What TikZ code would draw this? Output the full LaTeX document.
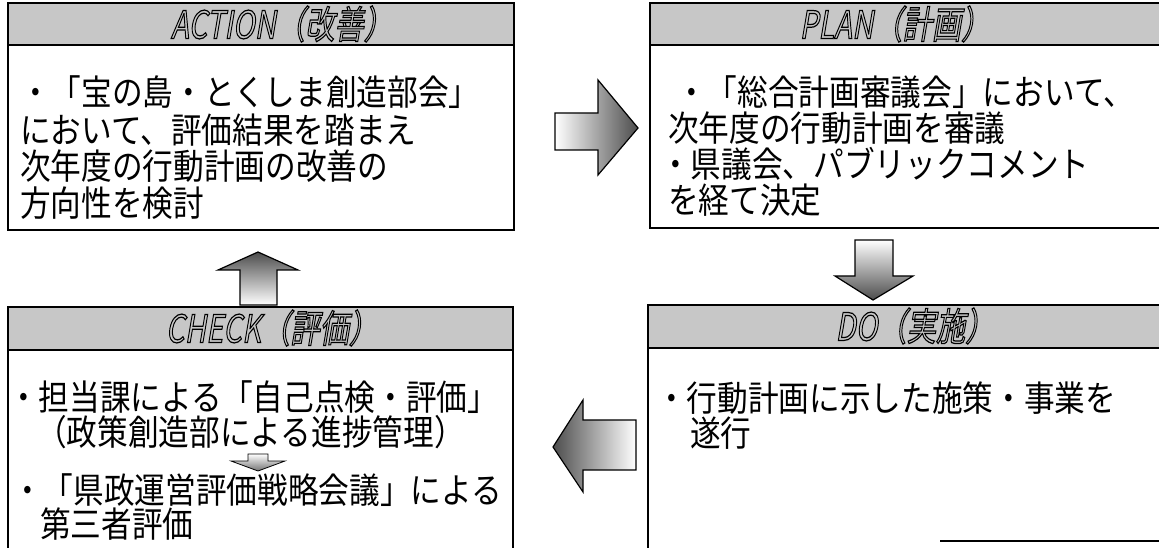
\documentclass[tikz,border=0pt]{standalone}
\usepackage{fontspec}
\usepackage{graphicx}
\setmainfont{Noto Sans CJK JP}
\newfontfamily\hdrfont[FakeSlant=0.22]{Noto Sans CJK JP}
\newcommand\outlinetext[1]{\scalebox{1}[1.3]{\special{pdf:literal direct 1 Tr 0.7 w}#1\special{pdf:literal direct 0 Tr}}}
\newcommand\bt[1]{\scalebox{1}[1.15]{#1}}
\tikzset{
  frame/.style={draw=black, line width=1.1pt},
  hdrbar/.style={draw=black, line width=1.1pt, fill=black!22},
  htext/.style={font=\hdrfont\fontsize{22}{24}\selectfont, inner sep=0pt},
  body/.style={font=\fontsize{23}{26}\selectfont, anchor=west, inner sep=0pt},
  bigarrow/.style={draw=black, line width=0.9pt},
}
\begin{document}
\begin{tikzpicture}[x=0.75pt,y=-0.75pt]
\useasboundingbox (0,0) rectangle (1159,548);
% ---------- ACTION ----------
\path[hdrbar] (8,3) rectangle (514,45);
\draw[frame] (8,45) -- (8,230) -- (514,230) -- (514,45);
\node[htext] (ha) at (282,24) {\outlinetext{ACTION（改善）}};
\node[body] (a1) at (20,92) {\bt{・「宝の島・とくしま創造部会」}};
\node[body] (a2) at (20,130) {\bt{において、評価結果を踏まえ}};
\node[body] (a3) at (20,166) {\bt{次年度の行動計画の改善の}};
\node[body] (a4) at (20,203) {\bt{方向性を検討}};
% ---------- PLAN ----------
\path[hdrbar] (650,3) rectangle (1162,45);
\draw[frame] (650,45) -- (650,228) -- (1162,228);
\node[htext] (hp) at (895,24) {\outlinetext{PLAN（計画）}};
\node[body] (p1) at (676,92) {\bt{・「総合計画審議会」において、}};
\node[body] (p2) at (668,128) {\bt{次年度の行動計画を審議}};
\node[body] (p3) at (660,164) {\bt{・県議会、パブリックコメント}};
\node[body] (p4) at (668,200) {\bt{を経て決定}};
% ---------- CHECK ----------
\path[hdrbar] (8,307) rectangle (513,350);
\draw[frame] (8,350) -- (8,552);
\draw[frame] (513,350) -- (513,552);
\node[htext] (hc) at (272,328) {\outlinetext{CHECK（評価）}};
\node[body] (c1) at (8,397) {\bt{・担当課による「自己点検・評価」}};
\node[body] (c2) at (36,432) {\bt{（政策創造部による進捗管理）}};
\node[body] (c3) at (12,490) {\bt{・「県政運営評価戦略会議」による}};
\node[body] (c4) at (40,524) {\bt{第三者評価}};
\path[draw=black, line width=0.6pt, top color=white, bottom color=black!55]
  (248,454) -- (268,454) -- (268,461) -- (285,461) -- (258,471) -- (231,461) -- (248,461) -- cycle;
% ---------- DO ----------
\path[hdrbar] (648,305) rectangle (1162,348);
\draw[frame] (648,348) -- (648,552);
\draw[frame] (940,541) -- (1162,541);
\node[htext] (hd) at (915,326) {\outlinetext{DO（実施）}};
\node[body] (d1) at (656,398) {\bt{・行動計画に示した施策・事業を}};
\node[body] (d2) at (690,433) {\bt{遂行}};
% ---------- big arrows ----------
\path[bigarrow, left color=white, right color=black!70]
  (555,113) -- (598,113) -- (598,80) -- (638,128) -- (598,175) -- (598,150) -- (555,150) -- cycle;
\path[bigarrow, top color=black!70, bottom color=white]
  (240,305) -- (240,270) -- (218,270) -- (258,252) -- (298,270) -- (277,270) -- (277,305) -- cycle;
\path[bigarrow, top color=white, bottom color=black!70]
  (855,240) -- (893,240) -- (893,276) -- (913,276) -- (873,300) -- (835,276) -- (855,276) -- cycle;
\path[bigarrow, left color=black!70, right color=white]
  (636,420) -- (583,420) -- (583,400) -- (553,447) -- (583,492) -- (583,470) -- (636,470) -- cycle;
\end{tikzpicture}
\end{document}
